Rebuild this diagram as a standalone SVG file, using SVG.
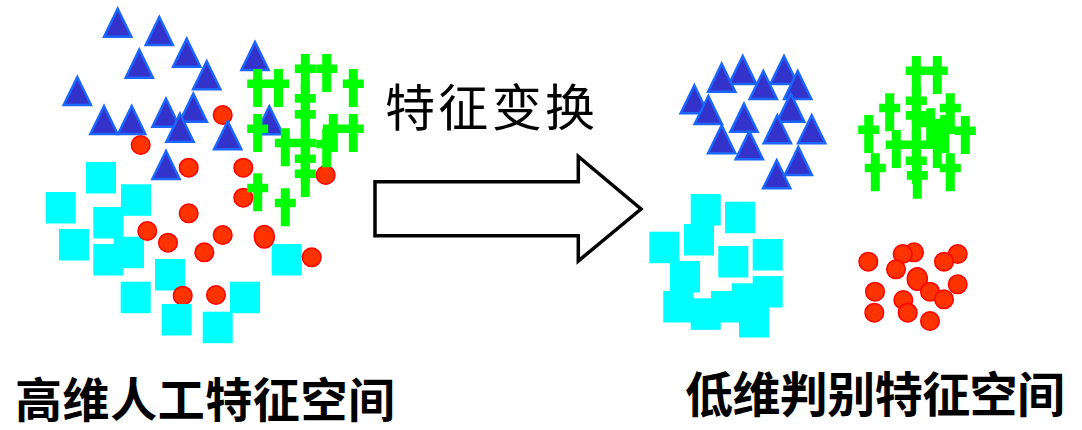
<svg xmlns="http://www.w3.org/2000/svg" xmlns:xlink="http://www.w3.org/1999/xlink" width="1082" height="430" viewBox="0 0 1082 430">
<style>
.tri{fill:#3333cc;stroke:#1a66ff;stroke-width:2.5;stroke-linejoin:miter}
.crs{fill:#00ff00}
.sq{fill:#00ffff}
.dot{fill:#ff3300;stroke:#ff0000;stroke-width:1.5}
.arrow{fill:#ffffff;stroke:#000000;stroke-width:3.5;stroke-linejoin:miter}
.lbl{font-family:"Noto Sans CJK SC","Noto Sans CJK JP",sans-serif;fill:#000000}
</style>
<defs>
<path id="tri" class="tri" d="M0,2 L13.6,30 L-13.6,30 Z"/>
<path id="crs" class="crs" d="M-4.5,0 h9 v10.4 h6 v8.6 h-6 v19 h-9 v-19 h-6 v-8.6 h6 z"/>
<rect id="sq" class="sq" width="30" height="31.5"/>
<circle id="dot" class="dot" r="9.3"/>
</defs>
<rect width="1082" height="430" fill="#ffffff"/>

<g id="left-cluster">
<g id="left-squares-back">
<use href="#sq" x="86" y="162"/><use href="#sq" x="121" y="184.3"/><use href="#sq" x="45.7" y="192"/><use href="#sq" x="93.3" y="207"/><use href="#sq" x="59" y="229"/><use href="#sq" x="93.3" y="244"/><use href="#sq" x="114" y="236.7"/><use href="#sq" x="155" y="259"/><use href="#sq" x="271.7" y="244"/><use href="#sq" x="120.7" y="281.7"/><use href="#sq" x="230" y="281.7"/><use href="#sq" x="202.7" y="311.7"/>
</g>
<g id="left-circles">
<use href="#dot" x="222.7" y="115"/><use href="#dot" x="140.7" y="145"/><use href="#dot" x="188.7" y="167.7"/><use href="#dot" x="243.3" y="167.7"/><use href="#dot" x="243.3" y="197.7"/><use href="#dot" x="325.7" y="175"/><use href="#dot" x="188.7" y="213.3"/><use href="#dot" x="147.3" y="231"/><use href="#dot" x="168" y="242.7"/><use href="#dot" x="222.7" y="235"/><use href="#dot" x="204.3" y="252.3"/><ellipse class="dot" cx="264.3" cy="236.7" rx="10" ry="11.3"/><use href="#dot" x="311.7" y="257.3"/><use href="#dot" x="182.7" y="295.7"/><use href="#dot" x="216" y="295"/>
</g>
<g id="left-squares-front">
<use href="#sq" x="161.7" y="304"/>
</g>
<g id="left-triangles">
<use href="#tri" x="117.7" y="6.7"/><use href="#tri" x="159.3" y="15"/><use href="#tri" x="186.7" y="36.7"/><use href="#tri" x="139.3" y="47.7"/><use href="#tri" x="206.7" y="59.3"/><use href="#tri" x="77.3" y="75"/><use href="#tri" x="104" y="104"/><use href="#tri" x="131.7" y="104"/><use href="#tri" x="166" y="96.7"/><use href="#tri" x="193.3" y="91.7"/><use href="#tri" x="180" y="111.7"/><use href="#tri" x="227.7" y="119.3"/><use href="#tri" x="166" y="149"/><use href="#tri" x="255" y="40"/><use href="#tri" x="269.3" y="104.3"/>
</g>
<g id="left-crosses">
<use href="#crs" x="257.7" y="69"/><use href="#crs" x="278.5" y="69"/><use href="#crs" x="305.3" y="54"/><use href="#crs" x="326.7" y="54"/><use href="#crs" x="353.3" y="69"/><use href="#crs" x="257.7" y="114"/><use href="#crs" x="285.3" y="128.3"/><use href="#crs" x="305.3" y="83.7"/><use href="#crs" x="305.3" y="99.7"/><use href="#crs" x="305.3" y="128.3"/><use href="#crs" x="305.3" y="144"/><use href="#crs" x="305.3" y="159"/><use href="#crs" x="326.7" y="129.3"/><use href="#crs" x="333.3" y="114"/><use href="#crs" x="353.3" y="114"/><use href="#crs" x="257.7" y="173.3"/><use href="#crs" x="285.3" y="188.3"/>
</g>
</g>

<g id="connectors">
<path id="transform-arrow" class="arrow" d="M375,181.7 H578.3 V156.5 L641,209 L578.3,261 V235.7 H375 Z"/>
</g>
<text id="transform-label" class="lbl" x="385" y="126" font-size="50" textLength="210" lengthAdjust="spacing">特征变换</text>

<g id="right-cluster">
<g id="right-squares">
<use href="#sq" x="690.7" y="194"/><use href="#sq" x="725" y="201.7"/><use href="#sq" x="684" y="224"/><use href="#sq" x="649.3" y="231.7"/><use href="#sq" x="718.3" y="246"/><use href="#sq" x="752.7" y="239"/><use href="#sq" x="670" y="261"/><use href="#sq" x="752.7" y="276"/><use href="#sq" x="731.7" y="283.3"/><use href="#sq" x="663.3" y="291"/><use href="#sq" x="711" y="291"/><use href="#sq" x="690.7" y="298.3"/><use href="#sq" x="739" y="306"/>
</g>
<g id="right-triangles">
<use href="#tri" x="742.7" y="54"/><use href="#tri" x="784" y="54"/><use href="#tri" x="721.7" y="61.7"/><use href="#tri" x="763.3" y="69"/><use href="#tri" x="797.7" y="69"/><use href="#tri" x="694.3" y="83.3"/><use href="#tri" x="708.3" y="94"/><use href="#tri" x="790.7" y="91.7"/><use href="#tri" x="744" y="101.7"/><use href="#tri" x="777.3" y="113.3"/><use href="#tri" x="811.7" y="113.3"/><use href="#tri" x="721.7" y="123.3"/><use href="#tri" x="749.3" y="129.3"/><use href="#tri" x="798.3" y="145"/><use href="#tri" x="776.7" y="158.3"/>
</g>
<g id="right-crosses">
<use href="#crs" x="916.3" y="56"/><use href="#crs" x="937.3" y="56"/><use href="#crs" x="889.7" y="93.3"/><use href="#crs" x="950.3" y="93.3"/><use href="#crs" x="916.3" y="86"/><use href="#crs" x="916.3" y="100.7"/><use href="#crs" x="930.7" y="108.3"/><use href="#crs" x="944.7" y="115"/><use href="#crs" x="868.7" y="115"/><use href="#crs" x="965.3" y="116"/><use href="#crs" x="896.3" y="130"/><use href="#crs" x="916.3" y="130"/><use href="#crs" x="937.3" y="130"/><use href="#crs" x="875.3" y="153.3"/><use href="#crs" x="950.3" y="153.3"/><use href="#crs" x="916.3" y="146"/><use href="#crs" x="917.3" y="160.7"/>
</g>
<g id="right-circles">
<use href="#dot" x="868.3" y="261.7"/><use href="#dot" x="914" y="252.3"/><use href="#dot" x="902.7" y="254"/><use href="#dot" x="896" y="269.3"/><use href="#dot" x="957.7" y="254"/><use href="#dot" x="944" y="261.7"/><ellipse class="dot" cx="917.3" cy="279" rx="10" ry="11.3"/><use href="#dot" x="957.7" y="284.3"/><use href="#dot" x="930" y="291.7"/><use href="#dot" x="944" y="299.3"/><use href="#dot" x="875" y="291.7"/><use href="#dot" x="903.3" y="300"/><use href="#dot" x="907.7" y="312.7"/><use href="#dot" x="874.3" y="312.7"/><use href="#dot" x="930" y="321"/>
</g>
</g>

<text id="left-label" class="lbl" x="15" y="417" font-size="47" font-weight="bold" textLength="380" lengthAdjust="spacing">高维人工特征空间</text>
<text id="right-label" class="lbl" x="685" y="412" font-size="48" font-weight="bold" textLength="380" lengthAdjust="spacing">低维判别特征空间</text>
</svg>
